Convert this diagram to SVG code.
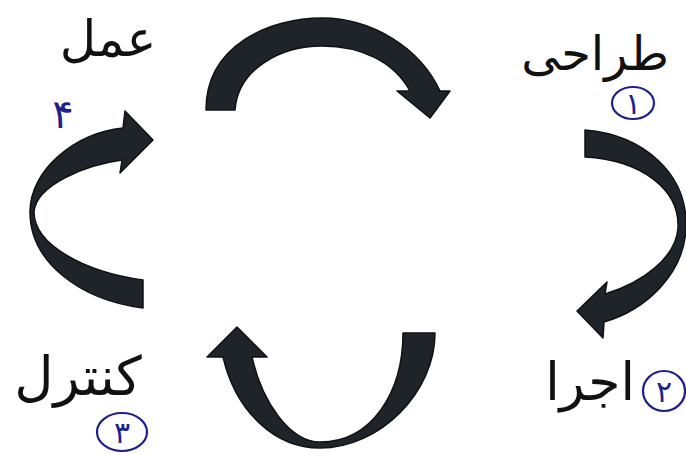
<svg xmlns="http://www.w3.org/2000/svg" width="686" height="455" viewBox="0 0 686 455">
<style>
.arrow{fill:#1f232a;stroke:#111;stroke-width:1.5;stroke-linejoin:round}
.lbl{font-family:"DejaVu Sans",sans-serif;fill:#111;text-anchor:middle}
.num{font-family:"DejaVu Sans",sans-serif;fill:#1c1f8c;text-anchor:middle}
.ring{fill:none;stroke:#1c1f8c;stroke-width:2.2}
</style>
<rect width="686" height="455" fill="#ffffff"/>
<g id="connectors">
<path class="arrow" d="M 206 110 C 206 45 270 18 322 18 C 372 18 420 48 440 91 L 450 91 L 430 118 L 397 91 L 410 91 C 394 62 362 46 322 46 C 282 46 238 68 235 110 Z"/>
<path class="arrow" d="M 585 130 C 645 135 688 175 686 228 C 684 275 645 310 604 322 L 603 338 L 577 311 L 607 282 L 605 294 C 642 283 676 258 678 228 C 680 190 642 160 585 157 Z"/>
<path class="arrow" d="M 435 333 C 435 392 380 448 320 448 C 275 448 236 412 223 357 L 207 357 L 237 327 L 267 357 L 252 357 C 262 402 290 442 320 442 C 372 442 403 392 403 333 Z"/>
<path class="arrow" d="M 143 308 C 80 300 30 262 30 212 C 30 170 75 133 123 128 L 125 111 L 153 140 L 120 173 L 122 160 C 85 165 36 185 34 212 C 34 245 85 272 143 280 Z"/>
</g>
<g id="node-amal">
<text class="lbl" x="108" y="56" font-size="50">عمل</text>
<text class="num" x="63" y="128" font-size="40">۴</text>
</g>
<g id="node-tarahi">
<text class="lbl" x="595" y="70" font-size="48">طراحی</text>
<ellipse class="ring" cx="633" cy="103" rx="21" ry="16"/>
<text class="num" x="633" y="114" font-size="30">۱</text>
</g>
<g id="node-ejra">
<text class="lbl" x="590" y="400" font-size="52">اجرا</text>
<ellipse class="ring" cx="664" cy="391" rx="21" ry="20"/>
<text class="num" x="664" y="402" font-size="30">۲</text>
</g>
<g id="node-control">
<text class="lbl" x="78" y="395" font-size="54">کنترل</text>
<ellipse class="ring" cx="122" cy="432" rx="25" ry="19"/>
<text class="num" x="122" y="443" font-size="30">۳</text>
</g>
</svg>
